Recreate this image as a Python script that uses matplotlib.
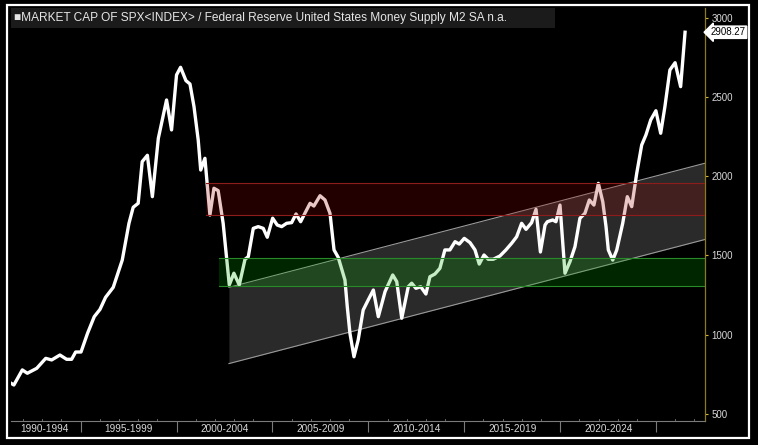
import numpy as np
import matplotlib
matplotlib.use("Agg")
import matplotlib.pyplot as plt
from matplotlib.patches import Rectangle
from matplotlib.transforms import blended_transform_factory

plt.rcParams['font.family'] = ['Liberation Sans', 'DejaVu Sans']

# SPX market cap / M2 money supply (decimal years)
years = [1991.37, 1991.52, 1991.96, 1992.22, 1992.71, 1993.18, 1993.49, 1993.92, 1994.27, 1994.53,
         1994.74, 1995.02, 1995.36, 1995.71, 1996.01, 1996.30, 1996.70, 1997.17, 1997.52, 1997.74,
         1998.00, 1998.21, 1998.48, 1998.74, 1999.05, 1999.22, 1999.48, 1999.74, 2000.00, 2000.21,
         2000.49, 2000.70, 2000.91, 2001.13, 2001.26, 2001.48, 2001.74, 2001.95, 2002.17, 2002.43,
         2002.75, 2002.99, 2003.27, 2003.57, 2003.74, 2004.00, 2004.26, 2004.52, 2004.73, 2005.01,
         2005.25, 2005.48, 2005.74, 2006.00, 2006.23, 2006.47, 2006.69, 2006.96, 2007.16, 2007.48,
         2007.74, 2008.00, 2008.21, 2008.43, 2008.78, 2008.90, 2009.04, 2009.25, 2009.47, 2009.73,
         2009.99, 2010.26, 2010.52, 2010.87, 2011.27, 2011.48, 2011.74, 2012.08, 2012.26, 2012.48,
         2012.73, 2013.00, 2013.21, 2013.47, 2013.73, 2013.99, 2014.25, 2014.52, 2014.74, 2015.00,
         2015.30, 2015.56, 2015.78, 2016.03, 2016.25, 2016.51, 2016.86, 2017.17, 2017.47, 2017.73,
         2017.99, 2018.22, 2018.51, 2018.74, 2018.97, 2019.21, 2019.33, 2019.61, 2019.78, 2019.99,
         2020.25, 2020.51, 2020.77, 2021.03, 2021.29, 2021.52, 2021.76, 2021.99, 2022.22, 2022.39,
         2022.51, 2022.74, 2022.95, 2023.26, 2023.50, 2023.73, 2023.99, 2024.25, 2024.47, 2024.72,
         2024.99, 2025.24, 2025.46, 2025.72, 2025.99, 2026.28, 2026.51]
ratio = [694, 683, 778, 757, 788, 851, 841, 872, 845, 845,
         891, 891, 1009, 1114, 1160, 1236, 1299, 1471, 1703, 1804,
         1829, 2092, 2132, 1871, 2239, 2334, 2481, 2292, 2639, 2687,
         2603, 2582, 2439, 2228, 2039, 2113, 1755, 1924, 1909, 1703,
         1314, 1388, 1314, 1476, 1492, 1671, 1682, 1671, 1615, 1735,
         1692, 1682, 1703, 1707, 1762, 1713, 1766, 1829, 1812, 1877,
         1850, 1766, 1535, 1488, 1345, 1177, 1009, 861, 967, 1156,
         1219, 1282, 1114, 1272, 1377, 1335, 1104, 1303, 1325, 1293,
         1303, 1257, 1366, 1383, 1419, 1535, 1535, 1587, 1572, 1608,
         1581, 1535, 1446, 1503, 1476, 1476, 1497, 1535, 1577, 1618,
         1703, 1665, 1707, 1791, 1522, 1692, 1713, 1724, 1713, 1818,
         1388, 1461, 1555, 1735, 1766, 1850, 1818, 1955, 1839, 1682,
         1535, 1471, 1535, 1703, 1871, 1808, 2018, 2197, 2260, 2355,
         2413, 2271, 2439, 2670, 2716, 2565, 2908.27]
last_value = 2908.27

# horizontal zones and the rising channel
red_zone = (2001.56, 1755, 1960)
green_zone = (2002.23, 1305, 1485)
channel_x = [2002.73, 2027.55]
channel_low = [818, 1601]
channel_high = [1299, 2082]

period_edges = [1995, 2000, 2005, 2010, 2015, 2020, 2025]
period_centers = [1993.09, 1997.5, 2002.5, 2007.5, 2012.5, 2017.5, 2022.5]
period_labels = ['1990-1994', '1995-1999', '2000-2004', '2005-2009', '2010-2014', '2015-2019', '2020-2024']
y_ticks = [500, 1000, 1500, 2000, 2500, 3000]

W, H = 758, 445
fig = plt.figure(figsize=(W / 100, H / 100), dpi=100, facecolor='black')
ax = fig.add_axes([11 / W, (H - 421) / H, 694 / W, 413 / H])
ax.set_facecolor('black')
ax.set_xlim(1991.37, 2027.55)
ax.set_ylim(455.8, 3061.2)

# channel (under the line)
ax.fill_between(channel_x, channel_low, channel_high, color='#2a2a2a', lw=0, zorder=1)
ax.plot(channel_x, channel_low, color='#9a9a9a', lw=0.8, zorder=1.5)
ax.plot(channel_x, channel_high, color='#9a9a9a', lw=0.8, zorder=1.5)

ax.plot(years, ratio, color='white', lw=2.4, zorder=2)

# zones drawn over the line so it takes their tint
for (x0, lo, hi), fc, ec in [(red_zone, '#a00000', '#8e1c1c'), (green_zone, '#00b000', '#288a28')]:
    ax.add_patch(Rectangle((x0, lo), 2027.55 - x0, hi - lo, facecolor=fc, alpha=0.22,
                           edgecolor='none', zorder=3))
    ax.plot([x0, 2027.55], [lo, lo], color=ec, lw=0.8, zorder=3.5)
    ax.plot([x0, 2027.55], [hi, hi], color=ec, lw=0.8, zorder=3.5)

# axes styling
for s in ['left', 'top']:
    ax.spines[s].set_visible(False)
ax.spines['right'].set_color('#8c7a22')
ax.spines['bottom'].set_color('#7a7a7a')
ax.spines['right'].set_linewidth(0.9)
ax.spines['bottom'].set_linewidth(0.8)

ax.yaxis.tick_right()
ax.set_yticks(y_ticks)
ax.set_yticklabels([str(v) for v in y_ticks])
ax.tick_params(axis='y', colors='#d4b830', length=2.5, width=0.8, pad=2,
               labelcolor='#d8d8d8', labelsize=7)

ax.set_xticks(period_edges)
ax.set_xticklabels([''] * len(period_edges))
ax.set_xticks(period_centers, minor=True)
ax.set_xticklabels(period_labels, minor=True)
ax.tick_params(axis='x', which='major', colors='#7a7a7a', length=8, width=0.8)
ax.tick_params(axis='x', which='minor', length=0, pad=2.5, labelcolor='#d8d8d8', labelsize=7.2)

# small yearly marks on the date axis
trans = blended_transform_factory(ax.transData, ax.transAxes)
for yr in range(1992, 2028):
    if yr % 5:
        ax.plot([yr, yr], [0, 0.006], color='#7a7a7a', lw=0.6, transform=trans, clip_on=False)

# legend strip at the top
ax.add_patch(Rectangle((0, 1 - 20 / 413), 544 / 694, 20 / 413, transform=ax.transAxes,
                       facecolor='#1b1b1b', edgecolor='none', zorder=5, clip_on=False))
ax.text(3 / 694, 1 - 10 / 413,
        '\u25a0MARKET CAP OF SPX<INDEX> / Federal Reserve United States Money Supply M2 SA n.a.',
        transform=ax.transAxes, color='#e6e6e6', fontsize=8.6, va='center', ha='left', zorder=6)

# last value tag
ax.annotate(f'{last_value:.2f}', xy=(1.0, last_value), xycoords=('axes fraction', 'data'),
            xytext=(4, 0), textcoords='offset points', color='black', fontsize=7,
            va='center', ha='left', zorder=6, annotation_clip=False,
            bbox=dict(boxstyle='larrow,pad=0.12', facecolor='white', edgecolor='white'))

# outer frame
fig.patches.append(Rectangle((7 / W, (H - 438) / H), 742 / W, 433 / H, transform=fig.transFigure,
                             fill=False, edgecolor='white', lw=1.6))

fig.savefig('out.png', dpi=100, facecolor='black')
